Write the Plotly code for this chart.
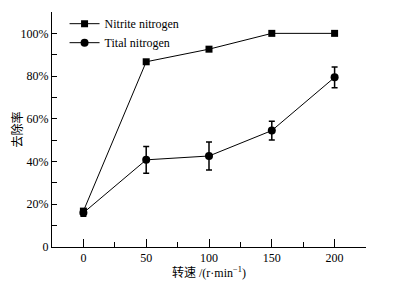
import plotly.graph_objects as go

speeds = [0, 50, 100, 150, 200]
nitrite = [16.8, 86.7, 92.6, 100.0, 100.0]
total_n = [16.0, 40.8, 42.6, 54.5, 79.4]
total_err = [1.6, 6.3, 6.6, 4.4, 4.8]
x_ticks = [0, 50, 100, 150, 200]
y_ticks = [0, 20, 40, 60, 80, 100]
y_labels = ["0", "20%", "40%", "60%", "80%", "100%"]

font = "Liberation Serif, Times New Roman, serif"

fig = go.Figure()
fig.add_trace(go.Scatter(
    x=speeds, y=nitrite, name="Nitrite nitrogen", mode="lines+markers",
    line=dict(color="black", width=1),
    marker=dict(symbol="square", size=7, color="black"),
))
fig.add_trace(go.Scatter(
    x=speeds, y=total_n, name="Tital nitrogen", mode="lines+markers",
    line=dict(color="black", width=1),
    marker=dict(symbol="circle", size=8, color="black"),
    error_y=dict(type="data", array=total_err, visible=True, color="black",
                 thickness=1.5, width=3),
))

# page body adds an 8px offset, so the figure is sized to the remaining area
fig.update_layout(
    width=398, height=275,
    margin=dict(l=44, r=40, t=4, b=36, autoexpand=False),
    paper_bgcolor="white", plot_bgcolor="white",
    font=dict(family=font, size=12, color="black"),
    showlegend=True,
    legend=dict(x=0.04, y=1.012, xanchor="left", yanchor="top",
                bgcolor="rgba(0,0,0,0)", itemwidth=30,
                font=dict(size=12), tracegroupgap=0),
    xaxis=dict(
        range=[-25, 225], tickvals=x_ticks, showgrid=False, zeroline=False,
        showline=True, linecolor="black", linewidth=1, automargin=False,
        ticks="inside", ticklen=8, tickcolor="black",
        minor=dict(dtick=25, tick0=0, ticks="inside", ticklen=5, tickcolor="black"),
        title=dict(text="转速 /(r·min<sup>−1</sup>)", font=dict(size=12,
                   family="Liberation Serif, Noto Sans CJK SC, serif"), standoff=2),
    ),
    yaxis=dict(
        range=[0, 110], tickvals=y_ticks, ticktext=y_labels, showgrid=False,
        zeroline=False, showline=True, linecolor="black", linewidth=1, automargin=False,
        ticks="inside", ticklen=5, tickcolor="black",
        minor=dict(dtick=10, tick0=0, ticks="inside", ticklen=5, tickcolor="black"),
        title=dict(text="去除率", font=dict(size=12,
                   family="Noto Sans CJK SC, serif"), standoff=2),
    ),
)

fig.write_html("out.html")
